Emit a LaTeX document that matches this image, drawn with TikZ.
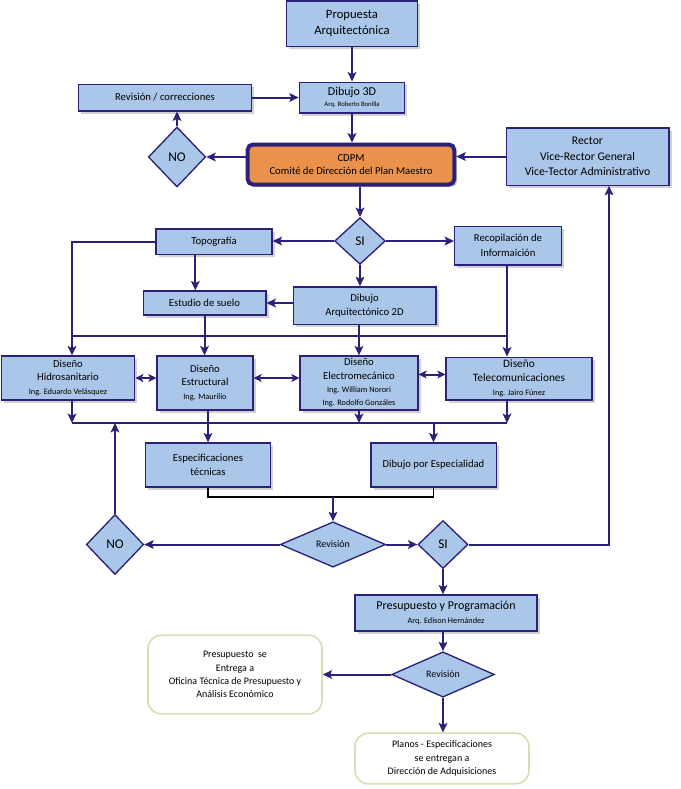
\documentclass[tikz,border=0pt]{standalone}
\usepackage{fontspec}
\setmainfont{Carlito}
\usetikzlibrary{shapes.geometric,shadows,arrows.meta}

\definecolor{boxblue}{RGB}{170,198,232}
\definecolor{navy}{RGB}{43,33,120}
\definecolor{cdpmorange}{RGB}{234,145,76}
\definecolor{palegreen}{RGB}{214,222,178}

\newcommand{\arqfont}{\fontsize{5}{6}\selectfont}
\newcommand{\ingfont}{\fontsize{6.2}{7.4}\selectfont}

\tikzset{
    box/.style={draw=navy, line width=1pt, fill=boxblue, align=center, inner sep=1pt,
        drop shadow={shadow xshift=2pt, shadow yshift=-2pt, opacity=0.3, fill=black!60},
        font=\fontsize{8}{10}\selectfont},
    dia/.style={diamond, draw=navy, line width=1pt, fill=boxblue, inner sep=0pt, align=center,
        font=\fontsize{7.5}{9}\selectfont},
    note/.style={draw=palegreen, line width=1.2pt, rounded corners=10pt, fill=white, align=center,
        font=\fontsize{7.5}{10}\selectfont},
    arr/.style={draw=navy, line width=1.5pt, -{Stealth[length=7pt,width=6.5pt,inset=1.5pt]}},
    darr/.style={draw=navy, line width=1.5pt, {Stealth[length=6pt,width=6pt,inset=1.5pt]}-{Stealth[length=6pt,width=6pt,inset=1.5pt]}},
    link/.style={draw=navy, line width=1.5pt}
}

\begin{document}
\begin{tikzpicture}[x=0.75pt, y=-0.75pt]

    \useasboundingbox (0,0) rectangle (681,789);

    % Top part
    
    \node[box, minimum width=98pt, minimum height=34pt, font=\fontsize{9.5}{12.5}\selectfont] (prop) at (352,23.5) {Propuesta\\Arquitectónica};
    \node[box, minimum width=79pt, minimum height=23pt, font=\fontsize{9}{8}\selectfont] (d3d) at (352,97.5) {Dibujo 3D\\{\arqfont Arq. Roberto Bonilla}};
    \node[box, minimum width=130pt, minimum height=20pt] (rev) at (165,97.5) {Revisión / correcciones};
    \node[dia, minimum width=43pt, minimum height=45pt, font=\fontsize{10}{12}\selectfont] (no1) at (177,157) {NO};
    \node[box, draw=navy, line width=3pt, rounded corners=4pt, fill=cdpmorange, minimum width=155pt, minimum height=30pt] (cdpm) at (351,164.5) {CDPM\\Comité de Dirección del Plan Maestro};
    \node[box, minimum width=122pt, minimum height=43pt, font=\fontsize{8.8}{11.5}\selectfont] (rector) at (587.5,156.5) {Rector\\Vice-Rector General\\Vice-Tector Administrativo};

    \node[dia, minimum width=38pt, minimum height=35pt, font=\fontsize{10}{12}\selectfont] (si1) at (360,241) {SI};
    \node[box, minimum width=87pt, minimum height=19pt] (topo) at (214,241.5) {Topografía};
    \node[box, minimum width=80pt, minimum height=29pt, font=\fontsize{8}{11}\selectfont] (recop) at (508,245.5) {Recopilación de\\Informaición};
    \node[box, minimum width=92pt, minimum height=18pt] (estudio) at (204.5,303) {Estudio de suelo};
    \node[box, minimum width=107pt, minimum height=28pt, font=\fontsize{8}{11}\selectfont] (d2d) at (364.5,305.5) {Dibujo\\Arquitectónico 2D};

    % Row of designs

    \node[box, minimum width=100pt, minimum height=33pt] (hidro) at (68,378) {Diseño\\Hidrosanitario\\{\ingfont Ing. Eduardo Velásquez}};
    \node[box, minimum width=72pt, minimum height=40.5pt] (estr) at (205,383) {Diseño\\Estructural\\{\ingfont Ing. Maurilio}};
    \node[box, minimum width=88.5pt, minimum height=40.5pt] (electro) at (359,383) {Diseño\\Electromecánico\\{\ingfont Ing. William Norori}\\{\ingfont Ing. Rodolfo Gonzáles}};
    \node[box, minimum width=109.5pt, minimum height=32pt, font=\fontsize{8.5}{10.5}\selectfont] (telecom) at (519,378.5) {Diseño\\Telecomunicaciones\\{\ingfont Ing. Jairo Fúnez}};

    \node[box, minimum width=94pt, minimum height=33pt, font=\fontsize{8}{11}\selectfont] (espec) at (208,465) {Especificaciones\\técnicas};
    \node[box, minimum width=94pt, minimum height=33pt] (dibesp) at (433.5,465) {Dibujo por Especialidad};

    % Bottom part

    \node[dia, minimum width=79pt, minimum height=34pt] (rev1) at (333,544.5) {Revisión};
    \node[dia, minimum width=43pt, minimum height=45pt, font=\fontsize{10}{12}\selectfont] (no2) at (115,544.5) {NO};
    \node[dia, minimum width=37.5pt, minimum height=36pt, font=\fontsize{10}{12}\selectfont] (si2) at (443,544.5) {SI};
    \node[box, minimum width=136.5pt, minimum height=27pt, font=\fontsize{9}{10}\selectfont] (presup) at (446,613) {Presupuesto y Programación\\{\ingfont Arq. Edison Hernández}};
    \node[dia, minimum width=77pt, minimum height=34pt] (rev2) at (443,674.5) {Revisión};
    \node[note, minimum width=130.5pt, minimum height=59pt] (entrega) at (235,674.5) {Presupuesto\ \ se\\Entrega a\\Oficina Técnica de Presupuesto y\\Análisis Económico};
    \node[note, minimum width=130.5pt, minimum height=38pt] (planos) at (442,758.5) {Planos - Especificaciones\\se entregan a\\Dirección de Adquisiciones};

    \coordinate (colA) at (72,0);
    \coordinate (mergeL) at (72,336);
    \coordinate (mergeR) at (507,336);
    \coordinate (busL) at (72,423);
    \coordinate (busR) at (507,423);
    \coordinate (join) at (333,497);
    \coordinate (turn) at (609,544.5);

    % Connectors

    \draw [arr](prop.south) -- (d3d.north);
    \draw [arr](rev.east) -- (d3d.west);
    \draw [arr](d3d.south) -- (d3d.south |- cdpm.north);
    \draw [arr](cdpm.west |- no1) -- (no1.east);
    \draw [arr](no1.north) -- (no1.north |- rev.south);
    \draw [arr](rector.west) -- (rector.west -| cdpm.east);
    \draw [arr](si1.north |- cdpm.south) -- (si1.north);

    \draw [arr](si1.west) -- (si1.west -| topo.east);
    \draw [arr](si1.east) -- (si1.east -| recop.west);
    \draw [arr](si1.south) -- (si1.south |- d2d.north);
    \draw [arr](topo.west) -| (colA |- hidro.north);
    \draw [arr]([xshift=-14pt]topo.south) -- ([xshift=-14pt]topo.south |- estudio.north);
    \draw [arr](d2d.west |- estudio) -- (estudio.east);
    \draw [link, line width=1pt](mergeL) -- (mergeR);
    \draw [arr](estudio.south) -- (estudio.south |- estr.north);
    \draw [arr](electro.north |- d2d.south) -- (electro.north);
    \draw [arr](recop.south -| mergeR) -- (mergeR |- telecom.north);

    \draw [darr](hidro.east) -- (hidro.east -| estr.west);
    \draw [darr](estr.east |- hidro.east) -- (electro.west |- hidro.east);
    \draw [darr]([yshift=3pt]electro.east |- telecom) -- ([yshift=3pt]telecom.west);

    \draw [arr](colA |- hidro.south) -- (busL);
    \draw [arr](electro.south) -- (electro.south |- busL);
    \draw [arr](busR |- telecom.south) -- (busR);
    \draw [link](busL) -- (busR);
    \draw [arr](espec.north |- estr.south) -- (espec.north);
    \draw [arr](dibesp.north |- busL) -- (dibesp.north);

    \draw [black, line width=0.8pt](espec.south) -- (espec.south |- join) -- (dibesp.south |- join) -- (dibesp.south);
    \draw [arr](join) -- (rev1.north);
    \draw [arr](rev1.west) -- (no2.east);
    \draw [arr](rev1.east) -- (si2.west);
    \draw [arr](no2.north) -- (no2.north |- busL);
    \draw [arr](si2.east) -- (turn) -- (turn |- rector.south);
    \draw [arr](si2.south) -- (si2.south |- presup.north);
    \draw [arr](rev2.north |- presup.south) -- (rev2.north);
    \draw [arr](rev2.west) -- (entrega.east);
    \draw [arr](rev2.south) -- (rev2.south |- planos.north);

\end{tikzpicture}
\end{document}
